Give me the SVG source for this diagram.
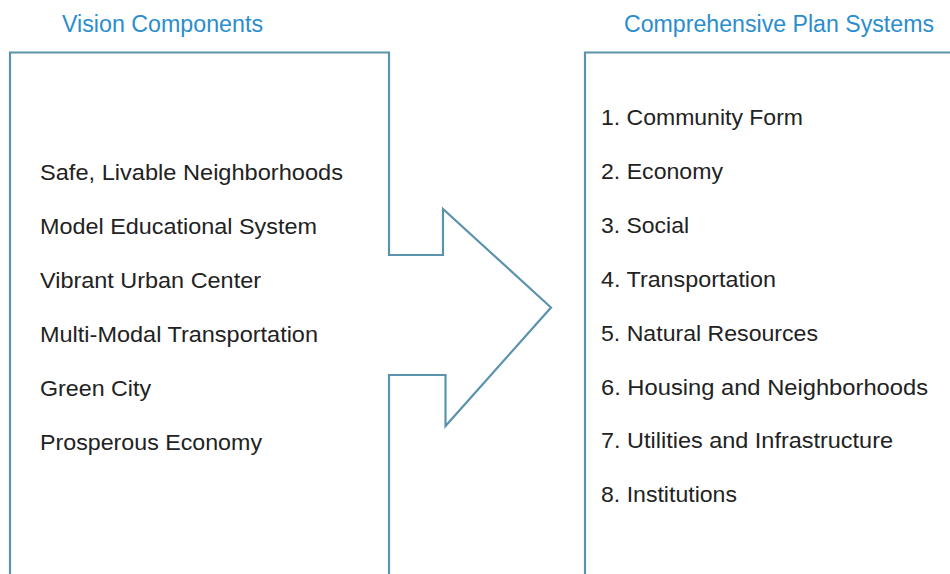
<svg xmlns="http://www.w3.org/2000/svg" width="950" height="574" viewBox="0 0 950 574">
<style>
.frame{fill:none;stroke:#5b93ad;stroke-width:2.2;stroke-linejoin:miter}
.title{font-family:"Liberation Sans",Arial,sans-serif;font-size:23px;fill:#2b8dcc}
.item{font-family:"Liberation Sans",Arial,sans-serif;font-size:22px;fill:#222}
</style>
<rect width="950" height="574" fill="#fff"/>
<g id="vision">
<path class="frame" d="M10,575 V52.5 H389 V255 H443 V209 L551,307.5 L445.5,426 V375 H389 V575"/>
<text class="title" x="62" y="32" textLength="201" lengthAdjust="spacingAndGlyphs">Vision Components</text>
<text class="item" x="40" y="180" textLength="303" lengthAdjust="spacingAndGlyphs">Safe, Livable Neighborhoods</text>
<text class="item" x="40" y="234" textLength="277" lengthAdjust="spacingAndGlyphs">Model Educational System</text>
<text class="item" x="40" y="288" textLength="221" lengthAdjust="spacingAndGlyphs">Vibrant Urban Center</text>
<text class="item" x="40" y="342" textLength="278" lengthAdjust="spacingAndGlyphs">Multi-Modal Transportation</text>
<text class="item" x="40" y="396" textLength="111" lengthAdjust="spacingAndGlyphs">Green City</text>
<text class="item" x="40" y="450" textLength="222" lengthAdjust="spacingAndGlyphs">Prosperous Economy</text>
</g>
<g id="plan">
<path class="frame" d="M585,575 V52.5 H951"/>
<text class="title" x="624" y="32" textLength="310" lengthAdjust="spacingAndGlyphs">Comprehensive Plan Systems</text>
<text class="item" x="601" y="125" textLength="202" lengthAdjust="spacingAndGlyphs">1. Community Form</text>
<text class="item" x="601" y="179" textLength="122" lengthAdjust="spacingAndGlyphs">2. Economy</text>
<text class="item" x="601" y="233" textLength="88" lengthAdjust="spacingAndGlyphs">3. Social</text>
<text class="item" x="601" y="287" textLength="175" lengthAdjust="spacingAndGlyphs">4. Transportation</text>
<text class="item" x="601" y="341" textLength="217" lengthAdjust="spacingAndGlyphs">5. Natural Resources</text>
<text class="item" x="601" y="395" textLength="327" lengthAdjust="spacingAndGlyphs">6. Housing and Neighborhoods</text>
<text class="item" x="601" y="448" textLength="292" lengthAdjust="spacingAndGlyphs">7. Utilities and Infrastructure</text>
<text class="item" x="601" y="502" textLength="136" lengthAdjust="spacingAndGlyphs">8. Institutions</text>
</g>
<g id="connectors"></g>
</svg>
